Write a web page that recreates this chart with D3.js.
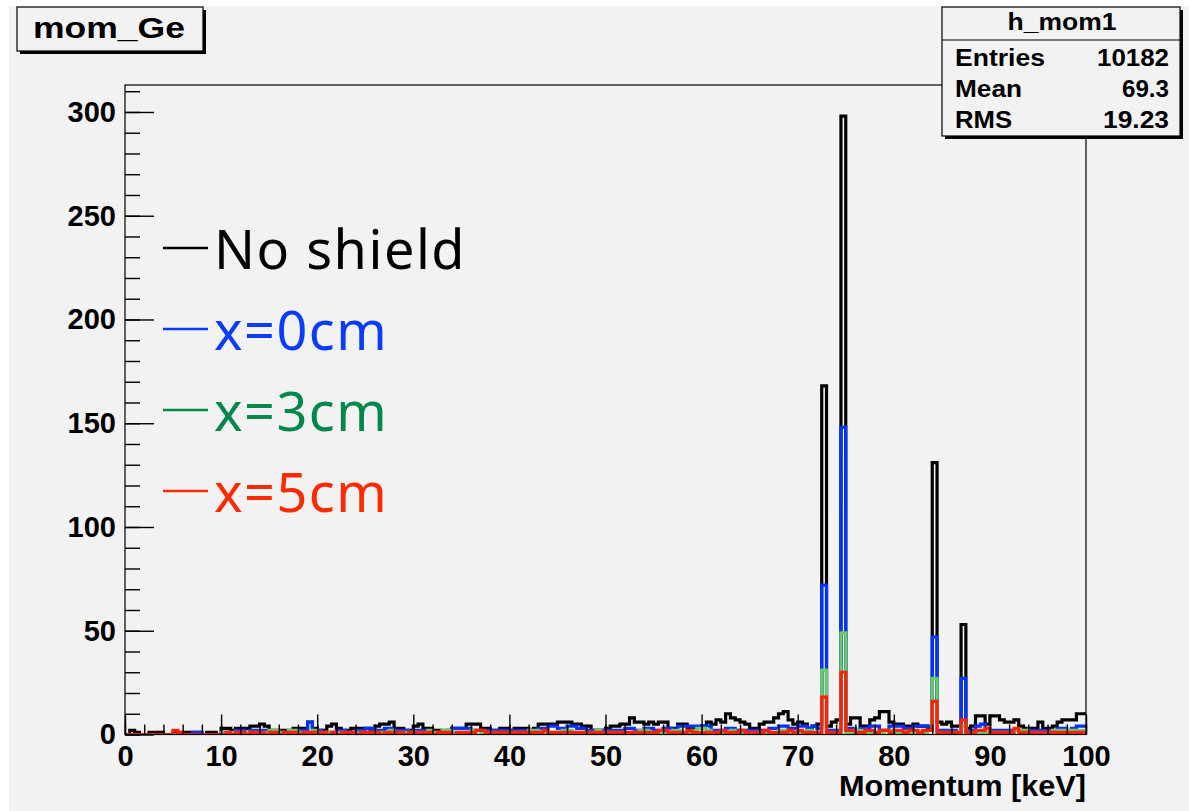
<!DOCTYPE html>
<html>
<head>
<meta charset="utf-8">
<script src="https://cdn.jsdelivr.net/npm/d3@7"></script>
<style>
  body { margin: 0; background: #fff; }
  svg { display: block; }
</style>
</head>
<body>
<div id="chart"></div>
<script>
// bin width 0.5 keV, 200 bins from 0 to 100 keV (one row = 10 keV)
const binWidth = 0.5;

const noShield = [
  0,2,1,0,0,1,1,1,0,0, 1,0,1,1,1,1,0,1,1,0,
  3,3,2,3,3,3,4,4,5,4, 2,2,2,2,2,3,3,3,6,3,
  2,2,4,5,3,2,2,3,3,3, 3,2,4,5,5,6,3,3,2,2,
  4,5,3,3,2,2,1,2,3,3, 3,5,5,5,3,3,2,2,3,3,
  2,3,3,3,2,3,5,5,5,5, 6,6,6,5,5,4,4,2,2,2,
  3,4,4,5,5,8,6,6,5,6, 5,6,6,3,3,5,5,3,3,3,
  4,6,5,7,6,10,8,7,6,5, 3,3,5,6,6,8,10,11,7,5,
  6,5,3,4,5,168,4,6,7,298, 5,8,8,4,4,7,8,11,11,6,
  5,5,4,4,5,4,4,3,131,6, 5,6,4,4,53,3,4,9,9,5,
  9,9,7,6,6,7,4,3,3,3, 6,3,3,4,6,7,7,7,10,10
];

const x0cm = [
  0,0,0,0,0,0,0,0,0,0, 0,0,0,0,1,1,0,0,0,0,
  1,1,1,2,2,1,2,2,2,2, 1,1,1,1,1,2,2,2,6,2,
  2,1,1,1,2,2,1,1,2,2, 3,3,2,2,3,3,2,2,2,1,
  2,2,2,2,1,1,1,1,3,3, 3,3,2,2,2,2,2,2,2,2,
  2,2,2,2,2,2,3,3,4,4, 3,3,4,4,3,3,2,2,2,2,
  2,2,2,2,3,3,2,2,3,3, 2,2,3,3,2,4,4,4,4,4,
  4,4,2,2,2,3,3,2,2,2, 2,2,2,2,3,3,4,4,3,3,
  4,4,3,4,3,72,2,2,2,148, 3,3,2,3,3,4,4,2,2,4,
  4,4,3,3,4,4,4,4,47,2, 2,2,2,1,27,2,2,4,5,3,
  2,2,2,2,2,2,2,2,2,2, 2,2,2,2,3,3,2,3,4,4
];

const x3cm = [
  0,0,0,0,0,0,0,0,0,0, 0,0,0,0,0,0,0,0,0,0,
  1,1,1,1,1,1,1,1,1,1, 2,2,1,1,2,2,1,1,1,2,
  1,1,1,1,1,1,1,1,1,1, 1,1,1,1,1,2,1,1,1,1,
  1,1,1,2,1,1,2,2,1,1, 1,1,2,2,1,1,1,1,1,1,
  1,1,1,1,2,2,1,1,1,1, 1,2,2,1,1,1,1,1,2,1,
  1,1,1,1,1,1,1,2,2,1, 1,1,1,1,2,2,1,1,2,3,
  3,2,1,1,1,1,2,1,1,1, 1,1,1,1,1,1,2,2,1,1,
  1,1,2,1,1,31,1,1,1,49, 1,1,2,2,1,1,1,1,2,2,
  1,1,1,1,1,1,1,2,27,1, 0,1,1,1,4,1,1,1,1,1,
  1,1,1,1,1,2,2,2,1,1, 1,1,1,2,2,2,2,2,2,2
];

const x5cm = [
  0,0,0,0,0,0,0,0,0,0, 2,1,0,0,0,0,0,0,0,0,
  0,1,0,1,1,0,1,1,1,0, 1,1,0,1,1,1,0,1,1,1,
  1,1,0,1,0,1,1,1,0,1, 1,1,1,0,1,1,1,1,0,1,
  1,1,1,1,0,1,1,1,0,1, 1,1,1,2,2,1,1,1,1,1,
  1,1,1,1,1,1,1,2,1,1, 1,1,1,1,1,1,1,1,1,1,
  1,1,1,1,1,1,1,1,1,1, 1,2,2,1,1,1,1,2,1,1,
  1,1,1,1,2,1,1,1,2,1, 1,1,1,2,1,1,1,1,2,1,
  2,1,1,1,1,18,1,1,1,30, 2,2,1,1,2,2,1,2,2,1,
  2,2,1,2,2,1,2,2,16,1, 1,1,1,1,7,1,1,2,2,3,
  1,1,1,1,1,3,1,1,1,1, 1,1,1,1,1,1,1,1,1,1
];

const seriesNames = ["No shield", "x=0cm", "x=3cm", "x=5cm"];
const seriesData = [noShield, x0cm, x3cm, x5cm];
const lineColors = ["#000000", "#0033ff", "#66cc66", "#ff2200"];
const legendColors = ["#000000", "#0a3cff", "#00874b", "#ff2a00"];

const statsLabels = ["Entries", "Mean", "RMS"];
const statsValues = ["10182", "69.3", "19.23"];

const W = 1189, H = 811;
const M = {l: 125, r: 1086, t: 85, b: 734.5};

const svg = d3.select("#chart").append("svg")
  .attr("width", W)
  .attr("height", H);

// canvas background
svg.append("rect")
  .attr("x", 9).attr("y", 6)
  .attr("width", W - 9).attr("height", H - 6)
  .attr("fill", "#f2f2f2");

const x = d3.scaleLinear().domain([0, 100]).range([M.l, M.r]);
const y = d3.scaleLinear().domain([0, 313]).range([M.b, M.t]);

svg.append("clipPath").attr("id", "plotclip")
  .append("rect")
  .attr("x", M.l).attr("y", M.t - 2)
  .attr("width", M.r - M.l).attr("height", M.b - M.t + 2);

// histograms as step outlines
const step = d3.line()
  .x(d => x(d[0]))
  .y(d => y(d[1]))
  .curve(d3.curveStepAfter);

const histG = svg.append("g").attr("clip-path", "url(#plotclip)");
seriesData.forEach((vals, k) => {
  const pts = [[0, 0]];
  vals.forEach((v, i) => pts.push([i * binWidth, v]));
  pts.push([vals.length * binWidth, vals[vals.length - 1]]);
  histG.append("path")
    .attr("d", step(pts))
    .attr("fill", "none")
    .attr("stroke", lineColors[k])
    .attr("stroke-width", 3.2)
    .attr("stroke-linejoin", "miter");
});

// frame
svg.append("rect")
  .attr("x", M.l).attr("y", M.t)
  .attr("width", M.r - M.l).attr("height", M.b - M.t)
  .attr("fill", "none")
  .attr("stroke", "#000")
  .attr("stroke-width", 1.2);

const labelFont = "'Liberation Sans', Arial, Helvetica, sans-serif";

// x axis, ticks pointing up into the frame
const xAxis = svg.append("g")
  .attr("transform", `translate(0,${M.b})`)
  .call(d3.axisBottom(x).tickValues(d3.range(0, 101, 10)).tickSize(-20).tickPadding(11));
svg.append("g")
  .attr("transform", `translate(0,${M.b})`)
  .call(d3.axisBottom(x).tickValues(d3.range(0, 101, 2)).tickSize(-10).tickFormat(""))
  .call(g => g.select(".domain").remove());

// y axis, ticks pointing right into the frame
const yAxis = svg.append("g")
  .attr("transform", `translate(${M.l},0)`)
  .call(d3.axisLeft(y).tickValues(d3.range(0, 301, 50)).tickSize(-29).tickPadding(9));
svg.append("g")
  .attr("transform", `translate(${M.l},0)`)
  .call(d3.axisLeft(y).tickValues(d3.range(0, 311, 10)).tickSize(-15).tickFormat(""))
  .call(g => g.select(".domain").remove());

[xAxis, yAxis].forEach(g => {
  g.select(".domain").remove();
  g.selectAll("text")
    .attr("font-family", labelFont)
    .attr("font-weight", "bold")
    .attr("font-size", 29)
    .attr("fill", "#000");
});
svg.selectAll("g.tick line").attr("stroke", "#000").attr("stroke-width", 1.4);

// x axis title
svg.append("text")
  .attr("x", M.r).attr("y", 796)
  .attr("text-anchor", "end")
  .attr("font-family", labelFont)
  .attr("font-weight", "bold")
  .attr("font-size", 29)
  .attr("textLength", 247)
  .attr("lengthAdjust", "spacingAndGlyphs")
  .text("Momentum [keV]");

// boxes with a dark shadow at right and bottom
function shadowBox(x0, y0, w, h) {
  svg.append("rect")
    .attr("x", x0 + 3).attr("y", y0 + 3)
    .attr("width", w).attr("height", h)
    .attr("fill", "#000");
  svg.append("rect")
    .attr("x", x0).attr("y", y0)
    .attr("width", w).attr("height", h)
    .attr("fill", "#f2f2f2")
    .attr("stroke", "#000")
    .attr("stroke-width", 1.2);
}

shadowBox(17, 7, 186, 44);
svg.append("text")
  .attr("x", 33).attr("y", 38)
  .attr("font-family", labelFont)
  .attr("font-weight", "bold")
  .attr("font-size", 29)
  .attr("textLength", 152)
  .attr("lengthAdjust", "spacingAndGlyphs")
  .text("mom_Ge");

// stats box
shadowBox(942, 7, 238, 129);
svg.append("line")
  .attr("x1", 942).attr("x2", 1180)
  .attr("y1", 40).attr("y2", 40)
  .attr("stroke", "#000").attr("stroke-width", 1.2);

const statFont = {family: labelFont, size: 23};
svg.append("text")
  .attr("x", 1062).attr("y", 30)
  .attr("text-anchor", "middle")
  .attr("font-family", statFont.family)
  .attr("font-weight", "bold")
  .attr("font-size", statFont.size)
  .attr("textLength", 109)
  .attr("lengthAdjust", "spacingAndGlyphs")
  .text("h_mom1");

const labelWidths = [90, 67, 57];
const valueWidths = [72, 47, 66];
const rowY = [66, 97, 128];
statsLabels.forEach((lab, i) => {
  svg.append("text")
    .attr("x", 955).attr("y", rowY[i])
    .attr("font-family", statFont.family)
    .attr("font-weight", "bold")
    .attr("font-size", statFont.size)
    .attr("textLength", labelWidths[i])
    .attr("lengthAdjust", "spacingAndGlyphs")
    .text(lab);
  svg.append("text")
    .attr("x", 1169).attr("y", rowY[i])
    .attr("text-anchor", "end")
    .attr("font-family", statFont.family)
    .attr("font-weight", "bold")
    .attr("font-size", statFont.size)
    .attr("textLength", valueWidths[i])
    .attr("lengthAdjust", "spacingAndGlyphs")
    .text(statsValues[i]);
});

// legend
const legY = [248, 329, 410, 491];
const legendFont = "'Noto Sans', 'Open Sans', sans-serif";
seriesNames.forEach((name, i) => {
  svg.append("line")
    .attr("x1", 163).attr("x2", 208)
    .attr("y1", legY[i]).attr("y2", legY[i])
    .attr("stroke", legendColors[i])
    .attr("stroke-width", 2.5);
  svg.append("text")
    .attr("x", 214).attr("y", legY[i] + 21)
    .attr("font-family", legendFont)
    .attr("font-size", 54)
    .attr("letter-spacing", 1.5)
    .attr("fill", legendColors[i])
    .text(name);
});
</script>
</body>
</html>
